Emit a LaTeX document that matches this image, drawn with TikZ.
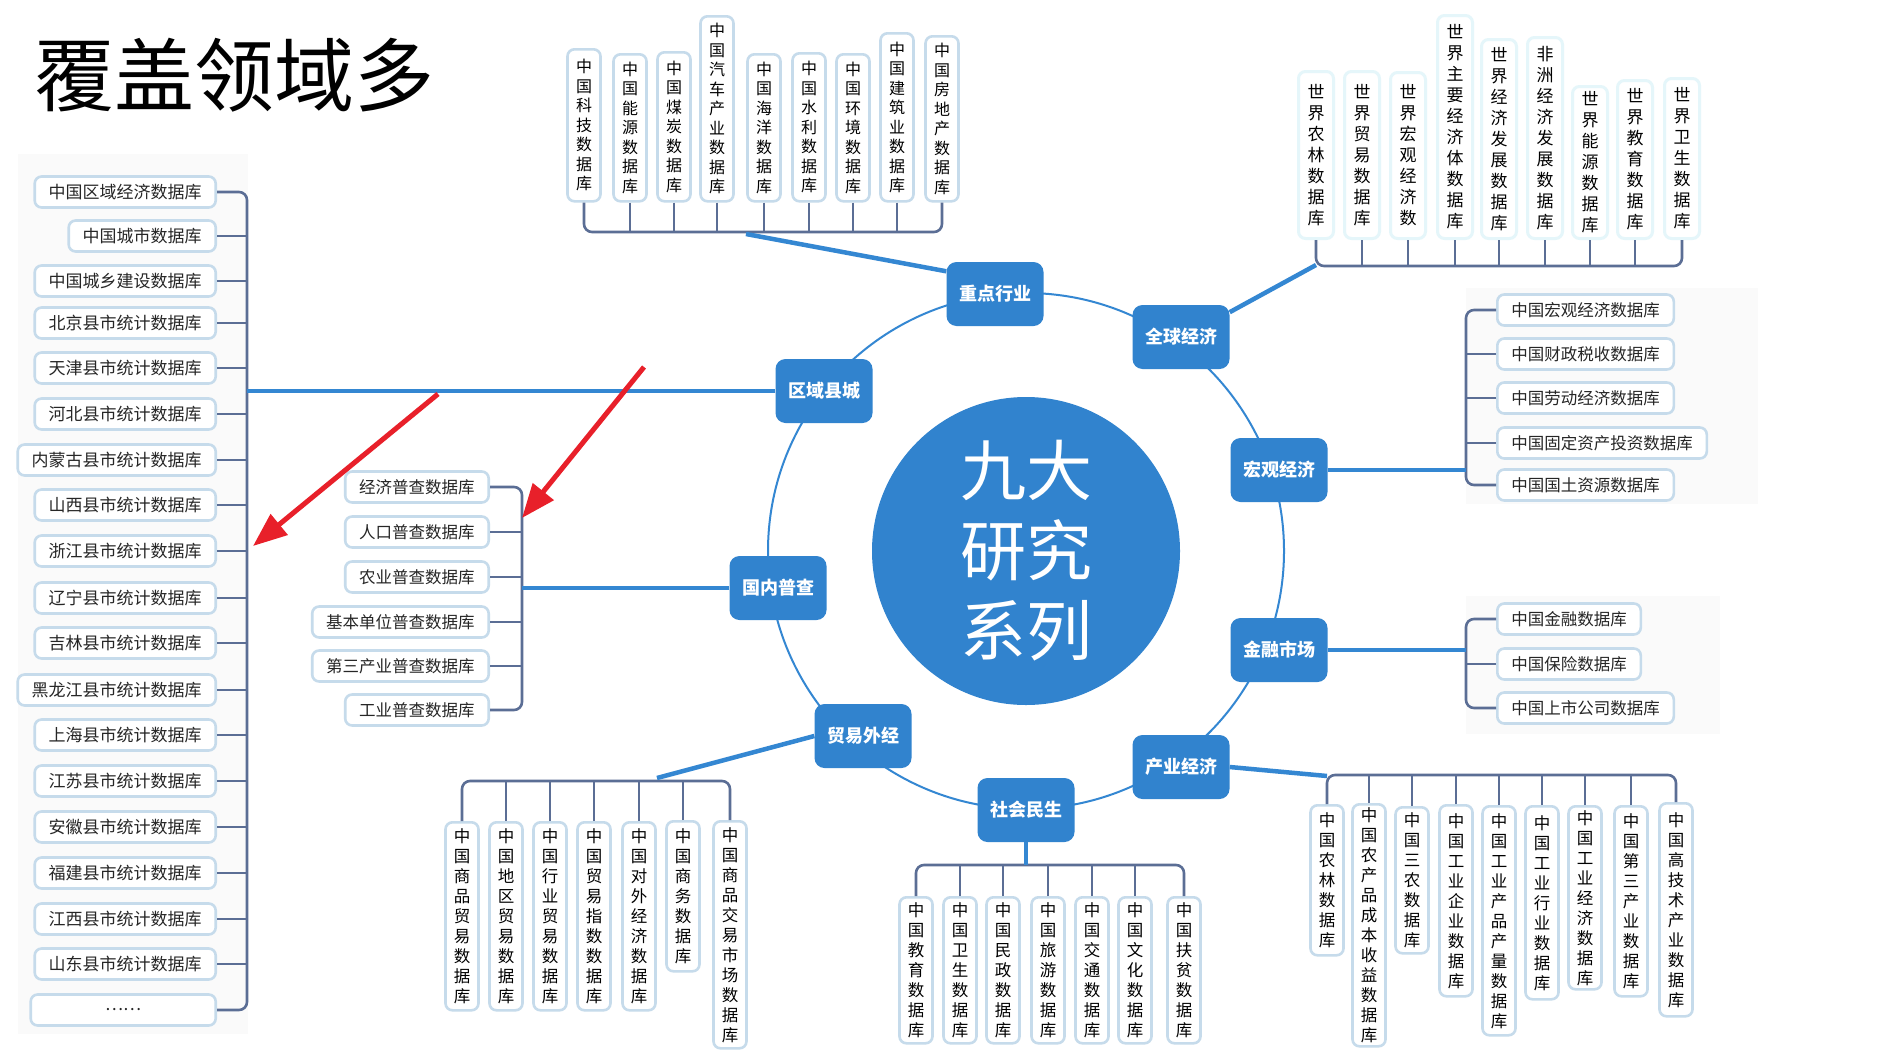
\documentclass[tikz,border=0pt]{standalone}
\usepackage{fontspec}
\setmainfont{Noto Sans CJK SC}
\usetikzlibrary{arrows.meta}
\definecolor{cblue}{HTML}{3183CE}
\definecolor{cline}{HTML}{3487D2}
\definecolor{brk}{HTML}{5B6E95}
\definecolor{ibord}{HTML}{C6DBEB}
\definecolor{itext}{HTML}{262626}
\definecolor{arrred}{HTML}{E8202A}
\definecolor{bgg}{HTML}{FAFAFA}
\newcommand\mystack[1]{\mystackA#1\mystackEnd}
\def\mystackA#1#2\mystackEnd{#1\ifx\relax#2\relax\else\\\mystackA#2\mystackEnd\fi}
\tikzset{
  cat/.style={fill=cblue, rounded corners=10pt, minimum width=97pt, minimum height=64pt, inner sep=0pt, text=white, font=\fontsize{18}{20}\selectfont\bfseries},
  hitem/.style={draw=ibord, line width=2.6pt, fill=white, rounded corners=7pt, minimum height=31pt, inner xsep=14pt, inner ysep=0pt, text=itext, font=\fontsize{16.5}{18}\selectfont},
  litem/.style={hitem, anchor=east, font=\fontsize{17}{18}\selectfont},
  pitem/.style={hitem, anchor=east},
  ritem/.style={hitem, anchor=west},
  vitem/.style={draw=ibord, line width=2.6pt, fill=white, rounded corners=7pt, minimum width=33pt, inner xsep=0pt, inner ysep=3pt, align=center, text=black, anchor=north},
  vtop/.style={font=\fontsize{16}{19.5}\selectfont},
  vglb/.style={font=\fontsize{17}{21}\selectfont, minimum width=35pt, line width=3pt, draw=ibord!85!cyan!30},
  vbot/.style={font=\fontsize{16.5}{20}\selectfont},
  brkline/.style={draw=brk, line width=2.6pt, rounded corners=8pt},
  tick/.style={draw=brk, line width=2.6pt},
  conn/.style={draw=cline, line width=4.5pt},
  ring/.style={draw=cline, line width=2pt},
  redarrow/.style={draw=arrred, line width=5pt, -{Triangle[length=34pt,width=26pt]}},
}
\newcommand\vnode[6][]{\node[vitem,#1,minimum height=#5-#4] (#2) at (#3,#4) {\mystack{#6}};}
\begin{document}
\begin{tikzpicture}[x=1pt,y=-1pt]
\useasboundingbox (0,0) rectangle (1881,1052);
\fill[white] (0,0) rectangle (1881,1052);
% faint backgrounds
\fill[bgg] (18,154) rectangle (248,1034);
\fill[bgg] (1466,288) rectangle (1758,504);
\fill[bgg] (1466,596) rectangle (1720,734);

% title
\node[font=\fontsize{80}{80}\selectfont, inner sep=0pt] (title) at (234,75) {覆盖领域多};

% ring
\draw[ring] (1026,551) circle[radius=258];

% centre
\node[circle, fill=cblue, minimum size=308pt, inner sep=0pt, text=white, align=center, font=\fontsize{66}{80}\selectfont] (core) at (1026,551) {九大\\研究\\系列};

% categories
\node[cat] (zdhy) at (995,294) {重点行业};
\node[cat] (qqjj) at (1181,337) {全球经济};
\node[cat] (qyxc) at (824,391) {区域县城};
\node[cat] (hgjj) at (1279,470) {宏观经济};
\node[cat] (gnpc) at (778,588) {国内普查};
\node[cat] (jrsc) at (1279,650) {金融市场};
\node[cat] (myjw) at (863,736) {贸易外经};
\node[cat] (cyjj) at (1181,767) {产业经济};
\node[cat] (shms) at (1026,810) {社会民生};

% bracket coordinates
\coordinate (tb) at (0,232);
\coordinate (gb) at (0,266);
\coordinate (hb) at (1466,0);
\coordinate (cb) at (0,775);
\coordinate (sb) at (0,865);
\coordinate (mb) at (0,781);
\coordinate (pb) at (522,0);
\coordinate (lb) at (247,0);
\coordinate (zc) at (746,234);
\coordinate (gc) at (1316,265);
\coordinate (cc) at (1327,776);
\coordinate (mc) at (657,778);

% top group
\vnode[vtop]{t1}{584}{48}{200}{中国科技数据库}
\vnode[vtop]{t2}{630}{53}{200}{中国能源数据库}
\vnode[vtop]{t3}{674}{51}{200}{中国煤炭数据库}
\vnode[vtop]{t4}{717}{15}{200}{中国汽车产业数据库}
\vnode[vtop]{t5}{764}{53}{200}{中国海洋数据库}
\vnode[vtop]{t6}{809}{52}{200}{中国水利数据库}
\vnode[vtop]{t7}{853}{53}{200}{中国环境数据库}
\vnode[vtop]{t8}{897}{32}{200}{中国建筑业数据库}
\vnode[vtop]{t9}{942}{35}{200}{中国房地产数据库}
\draw[brkline] (t1.south) -- (t1.south |- tb) -- (t9.south |- tb) -- (t9.south);
\foreach \n in {t2,t3,t4,t5,t6,t7,t8} \draw[tick] (\n.south) -- (\n.south |- tb);
\draw[conn] (zdhy.155) -- (zc);

% global group
\vnode[vglb]{g1}{1316}{70}{237}{世界农林数据库}
\vnode[vglb]{g2}{1362}{70}{237}{世界贸易数据库}
\vnode[vglb]{g3}{1408}{71}{237}{世界宏观经济数}
\vnode[vglb]{g4}{1455}{14}{237}{世界主要经济体数据库}
\vnode[vglb]{g5}{1499}{38}{237}{世界经济发展数据库}
\vnode[vglb]{g6}{1545}{36}{237}{非洲经济发展数据库}
\vnode[vglb]{g7}{1590}{85}{237}{世界能源数据库}
\vnode[vglb]{g8}{1635}{79}{237}{世界教育数据库}
\vnode[vglb]{g9}{1682}{77}{237}{世界卫生数据库}
\draw[brkline] (g1.south) -- (g1.south |- gb) -- (g9.south |- gb) -- (g9.south);
\foreach \n in {g2,g3,g4,g5,g6,g7,g8} \draw[tick] (\n.south) -- (\n.south |- gb);
\draw[conn] (qqjj.27) -- (gc);

% macro economy list
\node[ritem] (r1) at (1496,310) {中国宏观经济数据库};
\node[ritem] (r2) at (1496,354) {中国财政税收数据库};
\node[ritem] (r3) at (1496,398) {中国劳动经济数据库};
\node[ritem] (r4) at (1496,443) {中国固定资产投资数据库};
\node[ritem] (r5) at (1496,485) {中国国土资源数据库};
\draw[brkline] (r1.west) -- (r1.west -| hb) -- (r5.west -| hb) -- (r5.west);
\foreach \n in {r2,r3,r4} \draw[tick] (\n.west) -- (\n.west -| hb);
\draw[conn] (hgjj.east) -- (hgjj.east -| hb);

% finance list
\node[ritem] (f1) at (1496,619) {中国金融数据库};
\node[ritem] (f2) at (1496,664) {中国保险数据库};
\node[ritem] (f3) at (1496,708) {中国上市公司数据库};
\draw[brkline] (f1.west) -- (f1.west -| hb) -- (f3.west -| hb) -- (f3.west);
\draw[tick] (f2.west) -- (f2.west -| hb);
\draw[conn] (jrsc.east) -- (jrsc.east -| hb);

% industry group
\vnode[vbot]{c1}{1327}{804}{954}{中国农林数据库}
\vnode[vbot]{c2}{1369}{803}{1045}{中国农产品成本收益数据库}
\vnode[vbot]{c3}{1412}{806}{952}{中国三农数据库}
\vnode[vbot]{c4}{1456}{804}{995}{中国工业企业数据库}
\vnode[vbot]{c5}{1499}{805}{1034}{中国工业产品产量数据库}
\vnode[vbot]{c6}{1542}{805}{998}{中国工业行业数据库}
\vnode[vbot]{c7}{1585}{805}{988}{中国工业经济数据库}
\vnode[vbot]{c8}{1631}{805}{995}{中国第三产业数据库}
\vnode[vbot]{c9}{1676}{802}{1015}{中国高技术产业数据库}
\draw[brkline] (c1.north) -- (c1.north |- cb) -- (c9.north |- cb) -- (c9.north);
\foreach \n in {c2,c3,c4,c5,c6,c7,c8} \draw[tick] (\n.north) -- (\n.north |- cb);
\draw[conn] (cyjj.east) -- (cc);

% society group
\vnode[vbot]{s1}{916}{896}{1042}{中国教育数据库}
\vnode[vbot]{s2}{960}{896}{1042}{中国卫生数据库}
\vnode[vbot]{s3}{1003}{896}{1042}{中国民政数据库}
\vnode[vbot]{s4}{1048}{896}{1042}{中国旅游数据库}
\vnode[vbot]{s5}{1092}{896}{1042}{中国交通数据库}
\vnode[vbot]{s6}{1135}{896}{1042}{中国文化数据库}
\vnode[vbot]{s7}{1184}{896}{1042}{中国扶贫数据库}
\draw[brkline] (s1.north) -- (s1.north |- sb) -- (s7.north |- sb) -- (s7.north);
\foreach \n in {s2,s3,s4,s5,s6} \draw[tick] (\n.north) -- (\n.north |- sb);
\draw[conn] (shms.south) -- (shms.south |- sb);

% trade group
\vnode[vbot]{m1}{462}{821}{1009}{中国商品贸易数据库}
\vnode[vbot]{m2}{506}{821}{1009}{中国地区贸易数据库}
\vnode[vbot]{m3}{550}{821}{1009}{中国行业贸易数据库}
\vnode[vbot]{m4}{594}{821}{1009}{中国贸易指数数据库}
\vnode[vbot]{m5}{639}{821}{1009}{中国对外经济数据库}
\vnode[vbot]{m6}{683}{820}{970}{中国商务数据库}
\vnode[vbot]{m7}{730}{820}{1047}{中国商品交易市场数据库}
\draw[brkline] (m1.north) -- (m1.north |- mb) -- (m7.north |- mb) -- (m7.north);
\foreach \n in {m2,m3,m4,m5,m6} \draw[tick] (\n.north) -- (\n.north |- mb);
\draw[conn] (myjw.west) -- (mc);

% census list
\node[pitem] (p1) at (490,487) {经济普查数据库};
\node[pitem] (p2) at (490,532) {人口普查数据库};
\node[pitem] (p3) at (490,577) {农业普查数据库};
\node[pitem] (p4) at (490,622) {基本单位普查数据库};
\node[pitem] (p5) at (490,666) {第三产业普查数据库};
\node[pitem] (p6) at (490,710) {工业普查数据库};
\draw[brkline] (p1.east) -- (p1.east -| pb) -- (p6.east -| pb) -- (p6.east);
\foreach \n in {p2,p3,p4,p5} \draw[tick] (\n.east) -- (\n.east -| pb);
\draw[conn] (gnpc.west) -- (gnpc.west -| pb);

% regional list
\node[litem] (l1) at (217,192) {中国区域经济数据库};
\node[litem] (l2) at (217,236) {中国城市数据库};
\node[litem] (l3) at (217,281) {中国城乡建设数据库};
\node[litem] (l4) at (217,323) {北京县市统计数据库};
\node[litem] (l5) at (217,368) {天津县市统计数据库};
\node[litem] (l6) at (217,414) {河北县市统计数据库};
\node[litem] (l7) at (217,460) {内蒙古县市统计数据库};
\node[litem] (l8) at (217,505) {山西县市统计数据库};
\node[litem] (l9) at (217,551) {浙江县市统计数据库};
\node[litem] (l10) at (217,598) {辽宁县市统计数据库};
\node[litem] (l11) at (217,643) {吉林县市统计数据库};
\node[litem] (l12) at (217,690) {黑龙江县市统计数据库};
\node[litem] (l13) at (217,735) {上海县市统计数据库};
\node[litem] (l14) at (217,781) {江苏县市统计数据库};
\node[litem] (l15) at (217,827) {安徽县市统计数据库};
\node[litem] (l16) at (217,873) {福建县市统计数据库};
\node[litem] (l17) at (217,919) {江西县市统计数据库};
\node[litem] (l18) at (217,964) {山东县市统计数据库};
\node[litem, minimum width=185pt] (l19) at (217,1010) {……};
\draw[brkline] (l1.east) -- (l1.east -| lb) -- (l19.east -| lb) -- (l19.east);
\foreach \n in {l2,l3,l4,l5,l6,l7,l8,l9,l10,l11,l12,l13,l14,l15,l16,l17,l18} \draw[tick] (\n.east) -- (\n.east -| lb);
\draw[conn] (qyxc.west) -- (qyxc.west -| lb);

% red arrows
\coordinate (a1s) at (438,394);
\coordinate (a1e) at (253,546);
\coordinate (a2s) at (644,367);
\coordinate (a2e) at (522,518);
\draw[redarrow] (a1s) -- (a1e);
\draw[redarrow] (a2s) -- (a2e);
\end{tikzpicture}
\end{document}
